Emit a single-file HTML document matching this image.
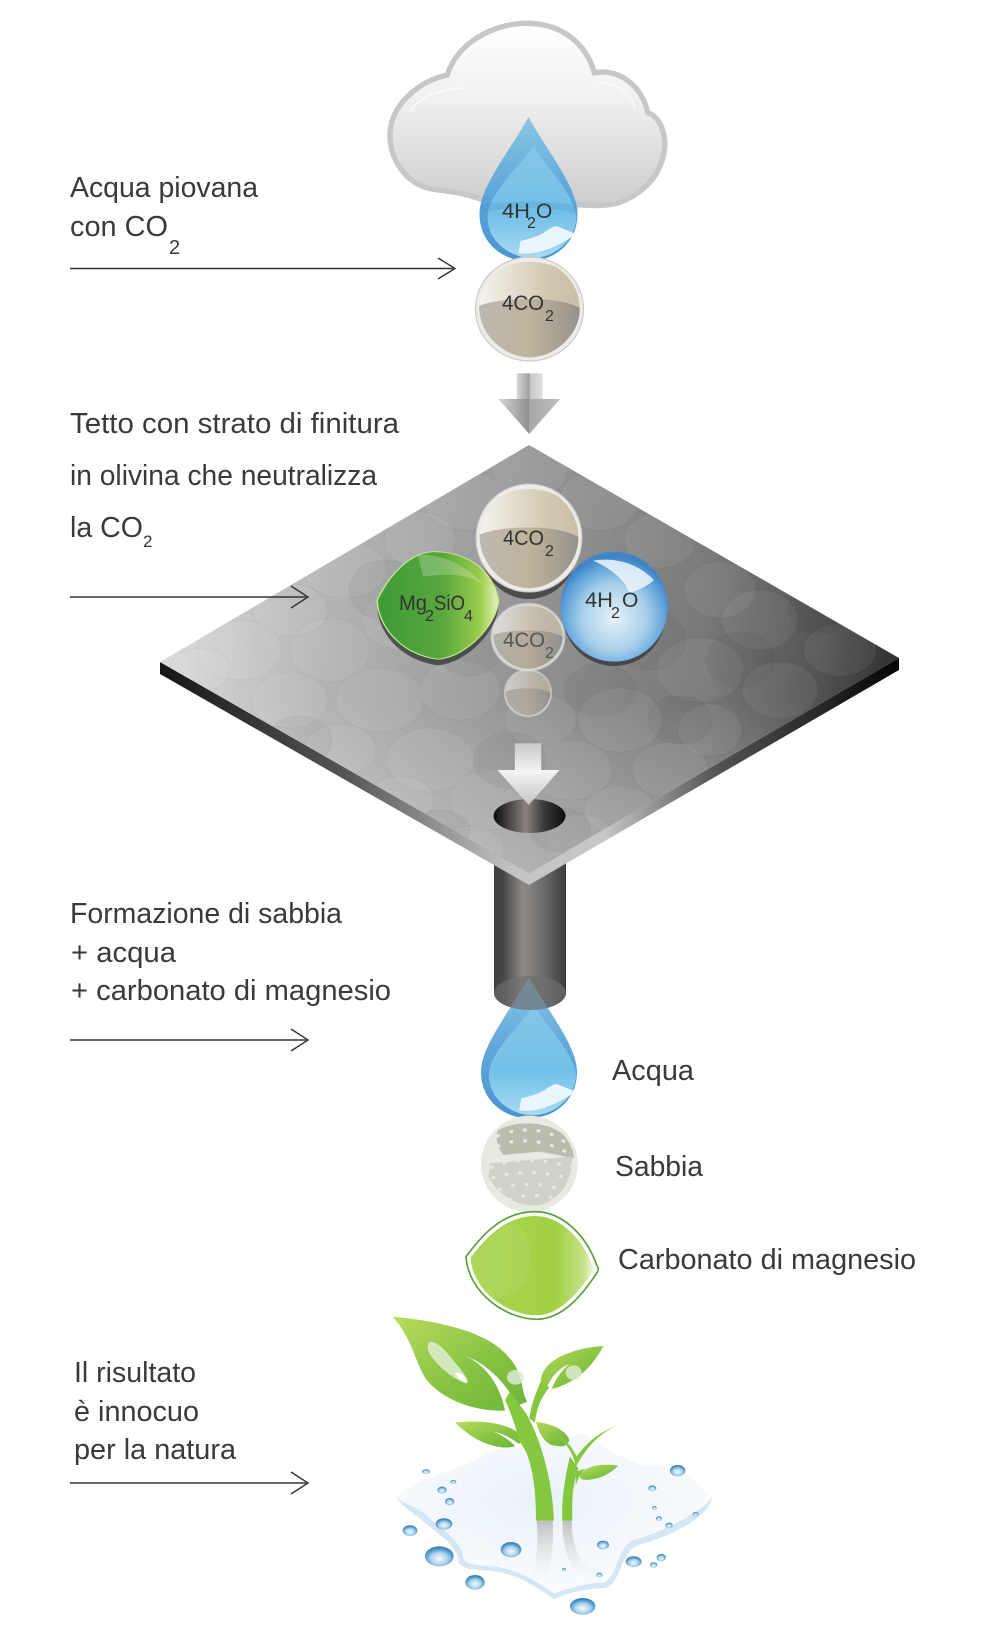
<!DOCTYPE html>
<html><head><meta charset="utf-8"><style>
html,body{margin:0;padding:0;background:#fff}
svg{display:block}
text{font-family:"Liberation Sans",sans-serif;fill:#2b2b2b}
.t{font-size:29px;fill:#3a3a3a}
.s{font-size:20px;fill:#3a3a3a}
.b{font-size:21px;fill:#333}
.bs{font-size:19px;fill:#333}
</style></head><body>
<svg width="1000" height="1637" viewBox="0 0 1000 1637" xmlns="http://www.w3.org/2000/svg">
<defs>
<linearGradient id="cl" x1="0" y1="0" x2="0" y2="1"><stop offset="0" stop-color="#fff"/><stop offset=".4" stop-color="#f1f1f1"/><stop offset=".75" stop-color="#dcdcdc"/><stop offset="1" stop-color="#cdcdcd"/></linearGradient>
<linearGradient id="dO" x1="0" y1="0" x2="0" y2="1"><stop offset="0" stop-color="#8cc6e2"/><stop offset=".5" stop-color="#5fa8da"/><stop offset="1" stop-color="#4b94d2"/></linearGradient>
<linearGradient id="dI" x1="0" y1="0" x2="0" y2="1"><stop offset="0" stop-color="#86c6e8"/><stop offset=".6" stop-color="#72c0e8"/><stop offset="1" stop-color="#a8daf2"/></linearGradient>
<linearGradient id="ballT" x1="0" y1="0" x2="1" y2="0"><stop offset="0" stop-color="#f5f3ee"/><stop offset=".7" stop-color="#d2c7af"/><stop offset="1" stop-color="#c9bfa9"/></linearGradient>
<linearGradient id="ballB" x1="0" y1="0" x2="1" y2="0"><stop offset="0" stop-color="#bdb9b1"/><stop offset=".5" stop-color="#bfb39c"/><stop offset="1" stop-color="#96928b"/></linearGradient>
<linearGradient id="arr" x1="0" y1="0" x2="1" y2="0"><stop offset="0" stop-color="#d8d8d8"/><stop offset=".5" stop-color="#9f9f9f"/><stop offset=".52" stop-color="#c8c8c8"/><stop offset="1" stop-color="#dedede"/></linearGradient>
<linearGradient id="arrH" x1="0" y1="0" x2="1" y2="0"><stop offset="0" stop-color="#d4d4d4"/><stop offset=".5" stop-color="#8f8f8f"/><stop offset=".5" stop-color="#a8a8a8"/><stop offset="1" stop-color="#bcbcbc"/></linearGradient>
<linearGradient id="top" gradientUnits="userSpaceOnUse" x1="160" y1="0" x2="899" y2="0"><stop offset="0" stop-color="#dcdcdc"/><stop offset=".22" stop-color="#b4b4b6"/><stop offset=".5" stop-color="#929294"/><stop offset=".74" stop-color="#767676"/><stop offset=".9" stop-color="#505050"/><stop offset="1" stop-color="#2e2e2e"/></linearGradient>
<linearGradient id="topV" x1="0" y1="0" x2="0" y2="1"><stop offset="0" stop-color="#fff" stop-opacity=".05"/><stop offset=".6" stop-color="#fff" stop-opacity="0"/><stop offset="1" stop-color="#fff" stop-opacity=".3"/></linearGradient>
<linearGradient id="side" gradientUnits="userSpaceOnUse" x1="160" y1="0" x2="899" y2="0"><stop offset="0" stop-color="#161616"/><stop offset=".25" stop-color="#555"/><stop offset=".48" stop-color="#c4c4c4"/><stop offset=".6" stop-color="#c8c8c8"/><stop offset=".75" stop-color="#555"/><stop offset="1" stop-color="#050505"/></linearGradient>
<linearGradient id="pipe" x1="0" y1="0" x2="1" y2="0"><stop offset="0" stop-color="#3f3f3f"/><stop offset=".12" stop-color="#444"/><stop offset=".4" stop-color="#8f8a88"/><stop offset=".7" stop-color="#6a6a6a"/><stop offset="1" stop-color="#3c3c3c"/></linearGradient>
<linearGradient id="hole" x1="0" y1="0" x2="1" y2="0"><stop offset="0" stop-color="#0c0c0c"/><stop offset=".45" stop-color="#8a8280"/><stop offset=".7" stop-color="#3a3a3a"/><stop offset="1" stop-color="#0c0c0c"/></linearGradient>
<linearGradient id="wa" x1="0" y1="0" x2="0" y2="1"><stop offset="0" stop-color="#c8c8c8"/><stop offset="1" stop-color="#f2f2f2"/></linearGradient>
<linearGradient id="wh" x1="0" y1="0" x2="0" y2="1"><stop offset="0" stop-color="#f6f6f6"/><stop offset="1" stop-color="#c4c4c4"/></linearGradient>
<linearGradient id="gr" x1="0" y1="0" x2="1" y2="0"><stop offset="0" stop-color="#3d9a38"/><stop offset=".55" stop-color="#5aa83e"/><stop offset=".85" stop-color="#9ccc4c"/><stop offset="1" stop-color="#e6f2c0"/></linearGradient>
<radialGradient id="blu" cx=".5" cy=".6" r=".55"><stop offset="0" stop-color="#e6f2f8"/><stop offset=".55" stop-color="#a8d0ea"/><stop offset=".88" stop-color="#5b9fd8"/><stop offset="1" stop-color="#3f85c6"/></radialGradient>
<linearGradient id="lg" x1="0" y1="0" x2="1" y2="0"><stop offset="0" stop-color="#a7d34f"/><stop offset=".7" stop-color="#a2d145"/><stop offset=".92" stop-color="#c6e08a"/><stop offset="1" stop-color="#f0f6df"/></linearGradient>
<linearGradient id="leaf" x1="0" y1="0" x2="1" y2="1"><stop offset="0" stop-color="#b8dc5c"/><stop offset=".6" stop-color="#85c242"/><stop offset="1" stop-color="#6cb63a"/></linearGradient>
<linearGradient id="rf" x1="0" y1="0" x2="0" y2="1"><stop offset="0" stop-color="#b5b5b5"/><stop offset="1" stop-color="#e8e8e8" stop-opacity=".1"/></linearGradient>
<radialGradient id="pud" cx=".45" cy=".42" r=".6"><stop offset="0" stop-color="#e8f2fa"/><stop offset="1" stop-color="#fbfcfe"/></radialGradient>
<radialGradient id="dp" cx=".5" cy=".62" r=".55"><stop offset="0" stop-color="#f6fbfe"/><stop offset=".55" stop-color="#a9d2ec"/><stop offset=".9" stop-color="#4e95cb"/><stop offset="1" stop-color="#3d82b8"/></radialGradient>
<clipPath id="dia"><path d="M529 445L899 658 529 873 160 662Z"/></clipPath>
<g id="drop">
 <path d="M0 0C-18 33-49 70-49 97C-49 125-27 144 0 144C27 144 49 125 49 97C49 70 18 33 0 0Z" fill="url(#dO)"/>
 <path d="M5 29C-10 50-41 78-41 100C-41 125-17 141 3 141C28 141 47 122 48 100C46 78 18 50 5 29Z" fill="url(#dI)"/>
 <path d="M-8 124C0 122 8 120 15 116C20 112 24 110 28 109L45 116C44 120 41 122 38 123C30 128 22 132 10 135C2 137-4 137-10 136Z" fill="#eaf6fb"/>
</g>
<g id="ball">
 <ellipse cx="0" cy="0" rx="1" ry="1" fill="#ecebe7" stroke="#c9c7c2" stroke-width=".02"/>
 <path d="M-.93 -.06C-.6 -.22 .5 -.28 .93 -.02A.94 .94 0 0 0 .5 -.8C.2 -.95 -.3 -.95 -.55 -.75C-.8 -.55 -.9 -.3 -.93 -.06Z" fill="url(#ballT)"/>
 <path d="M-.93 -.06C-.6 -.22 .5 -.28 .93 -.02C.95 .45 .5 .93 0 .93C-.5 .93 -.95 .45 -.93 -.06Z" fill="url(#ballB)"/>
</g>
</defs>

<rect width="1000" height="1637" fill="#fff"/>

<!-- Cloud -->
<g transform="translate(350,0) scale(.3333)">
 <path d="M385 595C320 572 280 575 235 565C160 545 118 470 120 400C122 320 200 245 292 225C320 130 430 70 530 70C640 70 710 135 733 218C820 205 880 270 893 338C940 355 950 420 942 460C925 545 860 590 800 610C750 622 700 615 660 612L400 600Z" fill="url(#cl)" stroke="#c7c7c7" stroke-width="16"/>
 <path d="M180 335C220 280 290 265 340 265" fill="none" stroke="#fff" stroke-width="6" opacity=".6"/>
 <path d="M740 250C800 245 845 280 855 330" fill="none" stroke="#fff" stroke-width="6" opacity=".5"/>
</g>
<use href="#drop" transform="translate(528.5,117)"/>
<path d="M481 205C500 200 560 200 578 206L577 214C555 206 500 206 481 214Z" fill="#3e7fb5" opacity=".18"/>
<!-- ball 1 -->
<use href="#ball" transform="translate(529.5,309) scale(54,52)"/>
<!-- grey arrow -->
<g transform="translate(350,0) scale(.3333)">
 <rect x="500" y="1120" width="78" height="78" fill="url(#arr)"/>
 <path d="M445 1197H630L538 1302Z" fill="url(#arrH)"/>
</g>

<!-- Pipe -->
<path d="M494 850H566V993A36 17 0 0 1 494 993Z" fill="url(#pipe)"/>

<!-- Diamond -->
<path d="M160 662V674L529 885 899 670V658L529 873Z" fill="url(#side)"/>
<path d="M529 445L899 658 529 873 160 662Z" fill="url(#top)"/>
<path d="M529 445L899 658 529 873 160 662Z" fill="url(#topV)"/>
<g clip-path="url(#dia)" stroke="#000" stroke-opacity=".035" stroke-width="1">
 <g fill="#fff" fill-opacity=".06">
  <ellipse cx="530" cy="470" rx="38" ry="28"/><ellipse cx="465" cy="500" rx="42" ry="30"/><ellipse cx="600" cy="500" rx="40" ry="30"/><ellipse cx="420" cy="540" rx="36" ry="28"/><ellipse cx="345" cy="570" rx="42" ry="28"/><ellipse cx="290" cy="610" rx="38" ry="26"/><ellipse cx="240" cy="650" rx="42" ry="30"/><ellipse cx="330" cy="650" rx="40" ry="32"/><ellipse cx="400" cy="620" rx="38" ry="30"/><ellipse cx="200" cy="670" rx="30" ry="22"/><ellipse cx="290" cy="700" rx="38" ry="28"/><ellipse cx="380" cy="700" rx="44" ry="32"/><ellipse cx="460" cy="690" rx="40" ry="30"/><ellipse cx="340" cy="750" rx="36" ry="26"/><ellipse cx="430" cy="760" rx="44" ry="32"/><ellipse cx="400" cy="800" rx="34" ry="24"/><ellipse cx="490" cy="800" rx="40" ry="30"/><ellipse cx="570" cy="770" rx="42" ry="30"/><ellipse cx="620" cy="720" rx="42" ry="32"/><ellipse cx="700" cy="670" rx="44" ry="32"/><ellipse cx="670" cy="770" rx="38" ry="28"/><ellipse cx="760" cy="620" rx="38" ry="30"/><ellipse cx="780" cy="690" rx="38" ry="28"/><ellipse cx="720" cy="590" rx="36" ry="28"/><ellipse cx="660" cy="540" rx="36" ry="28"/><ellipse cx="840" cy="650" rx="36" ry="26"/><ellipse cx="540" cy="720" rx="36" ry="26"/><ellipse cx="580" cy="840" rx="34" ry="26"/><ellipse cx="470" cy="850" rx="34" ry="24"/><ellipse cx="620" cy="810" rx="36" ry="24"/><ellipse cx="710" cy="730" rx="32" ry="26"/>
 </g>
 <g fill="#000" fill-opacity=".035">
  <ellipse cx="385" cy="590" rx="36" ry="30"/><ellipse cx="510" cy="760" rx="36" ry="28"/><ellipse cx="650" cy="640" rx="36" ry="30"/><ellipse cx="740" cy="660" rx="34" ry="28"/><ellipse cx="470" cy="650" rx="32" ry="26"/><ellipse cx="300" cy="740" rx="32" ry="24"/><ellipse cx="820" cy="610" rx="32" ry="24"/><ellipse cx="600" cy="690" rx="36" ry="26"/><ellipse cx="560" cy="830" rx="30" ry="22"/><ellipse cx="680" cy="720" rx="32" ry="24"/><ellipse cx="440" cy="830" rx="30" ry="20"/>
 </g>
</g>

<!-- Balls on diamond -->
<g transform="translate(140,430) scale(.4965,.3333)">
 <ellipse cx="783" cy="345" rx="100" ry="162" fill="#3f3f3f" opacity=".85"/>
 <ellipse cx="955" cy="550" rx="104" ry="158" fill="#3a3e42" opacity=".85"/>
 <path d="M590 383C660 383 710 440 722 528C720 600 660 698 600 706C520 690 478 600 478 528C500 460 540 388 590 383Z" fill="#3b423c" opacity=".85"/>
 <path d="M590 365C660 365 710 420 722 510C720 580 660 680 600 688C520 672 478 580 478 510C500 440 540 370 590 365Z" fill="url(#gr)" stroke="#c5e68d" stroke-width="3"/>
 <path d="M560 375C600 370 660 400 700 480C680 440 640 425 570 440Z" fill="#fff" opacity=".22"/>
 <ellipse cx="955" cy="530" rx="108" ry="165" fill="url(#blu)"/>
 <path d="M912 392C950 382 1000 395 1035 450C1020 470 1005 480 985 490C980 455 950 415 912 392Z" fill="#eef6fa" opacity=".85"/>
</g>
<use href="#ball" transform="translate(529,538) scale(53,54)"/>
<g opacity=".75"><use href="#ball" transform="translate(528,637) scale(37,34)"/></g>
<g opacity=".6"><use href="#ball" transform="translate(528,693) scale(24,24)"/></g>

<!-- white arrow + hole -->
<ellipse cx="529.5" cy="816" rx="36" ry="17" fill="url(#hole)"/>
<g transform="translate(140,430) scale(.4965,.3333)">
 <rect x="755" y="940" width="53" height="82" fill="url(#wa)"/>
 <path d="M720 1020H845L783 1125Z" fill="url(#wh)"/>
</g>

<!-- Drop 2 + pipe end -->
<use href="#drop" transform="translate(529,977) scale(.98,.98)"/>
<ellipse cx="530" cy="993" rx="36" ry="17" fill="#6f6f6f" opacity=".68"/>

<!-- Sand -->
<g transform="translate(440,860) scale(.3333)">
 <circle cx="268" cy="912" r="145" fill="#e9e8e1"/>
 <path d="M175 810C230 780 320 785 365 820C390 845 400 870 402 895L300 875 190 885C170 860 165 830 175 810Z" fill="#bcbbb0"/>
 <path d="M150 910L395 890C400 960 360 1020 300 1035C230 1045 170 1000 145 950Z" fill="#d2d1c8"/>
 <g fill="none" stroke="#e9e8e1" stroke-width="9" stroke-dasharray="11 30">
  <path d="M170 830C230 800 320 800 380 850"/><path d="M170 860C230 830 320 840 385 880"/><path d="M150 925C220 890 320 900 395 920"/><path d="M155 955C220 930 320 935 390 955"/><path d="M175 990C230 965 320 970 370 990"/><path d="M205 1020C250 1000 310 1005 345 1015"/>
 </g>
</g>

<!-- Green carbonate -->
<g transform="translate(440,860) scale(.3333)">
 <path d="M78 1190C130 1120 190 1055 285 1055C370 1055 440 1130 470 1215C477 1225 475 1235 470 1240C430 1300 370 1378 290 1378C200 1378 85 1300 78 1190Z" fill="#fff" stroke="#57a138" stroke-width="5"/>
 <path d="M92 1193C140 1130 200 1068 285 1068C362 1068 430 1138 458 1218C462 1226 462 1232 458 1236C420 1290 362 1366 290 1366C205 1366 97 1295 92 1193Z" fill="url(#lg)"/>
 <path d="M225 1085C265 1120 280 1175 265 1240C250 1290 190 1330 150 1312C110 1280 92 1250 92 1195C130 1150 180 1100 225 1085Z" fill="#fff" opacity=".08"/>
</g>

<!-- Puddle & plant -->
<g transform="translate(370,1300) scale(.3333)">
 <path d="M80 590C95 620 115 630 150 655C180 685 265 735 265 780C265 810 320 808 380 815C450 825 510 870 552 897C590 880 650 865 700 865C755 860 745 760 805 735C920 705 1020 645 1027 590C1015 620 900 690 790 720C735 745 745 840 695 848C640 850 590 868 552 880C510 850 450 810 380 800C320 795 280 795 280 770C280 725 190 670 165 640C125 615 95 610 80 590Z" fill="#d5e7f4"/>
 <path d="M80 590C130 530 290 510 350 460C440 430 550 425 640 400C700 440 760 480 830 500C900 480 990 540 1027 590C1015 620 900 690 790 720C735 745 745 840 695 848C640 850 590 868 552 880C510 850 450 810 380 800C320 795 280 795 280 770C280 725 190 670 165 640C125 615 95 610 80 590Z" fill="url(#pud)"/>
 <path d="M500 662H548C552 720 545 780 535 825H490C500 780 505 720 500 662Z" fill="url(#rf)" opacity=".85"/>
 <path d="M578 662H605C605 720 620 770 650 800C680 810 700 800 712 815C690 835 650 825 625 825C590 790 575 720 578 662Z" fill="url(#rf)" opacity=".85"/>
 <!-- plant -->
 <path d="M68 50C190 62 350 90 415 170C465 225 450 270 472 305L405 332C330 335 230 310 170 240C135 190 130 120 68 50Z" fill="url(#leaf)"/>
 <path d="M285 168C350 195 392 260 405 333L442 318C410 250 350 190 285 168Z" fill="#fff"/>
 <path d="M700 138C640 140 545 165 520 215C505 245 515 260 530 268C540 270 640 255 700 138Z" fill="url(#leaf)"/>
 <path d="M598 192C565 205 540 235 528 270L545 268C555 240 575 210 598 192Z" fill="#fff"/>
 <path d="M255 368C330 358 420 368 458 410C455 440 420 445 395 442C340 435 300 410 255 368Z" fill="url(#leaf)"/>
 <path d="M370 395C405 402 435 420 462 445L440 443C420 420 395 405 370 395Z" fill="#fff"/>
 <path d="M498 365C540 370 590 390 598 420C590 445 570 440 545 435C520 425 505 395 498 365Z" fill="url(#leaf)"/>
 <path d="M745 497C700 490 650 495 630 525C625 545 660 540 680 535C705 530 725 515 745 497Z" fill="url(#leaf)"/>
 <g fill="#85c73f">
  <path d="M420 275C440 300 452 320 465 335C505 400 548 530 552 662H498C498 570 490 480 445 410C435 375 420 330 405 300Z"/>
  <path d="M512 245C497 280 482 320 478 355L495 368C500 320 516 290 538 262Z"/>
  <path d="M440 415C450 425 462 440 475 470L480 440 458 415Z"/>
  <path d="M552 400C590 425 612 465 618 500C650 440 690 400 735 380C680 400 645 435 620 470C605 435 580 412 552 400Z"/>
  <path d="M600 470L625 505C603 570 607 620 607 662H577C574 600 585 530 600 470Z"/>
  <path d="M648 505C635 515 625 530 617 558L618 515Z"/>
 </g>
 <path d="M180 125C210 125 240 170 270 205C285 225 300 245 290 250C250 240 200 195 178 160C170 145 172 130 180 125Z" fill="#e2efd9" opacity=".8"/>
 <path d="M255 220C270 210 290 235 292 248C280 248 262 235 255 220Z" fill="#fff"/>
 <ellipse cx="436" cy="232" rx="25" ry="22" fill="#dbead2" opacity=".85"/>
 <ellipse cx="611" cy="218" rx="24" ry="22" fill="#dbead2" opacity=".85"/>
 <!-- droplets -->
 <ellipse cx="168" cy="515" rx="12" ry="7" fill="url(#dp)"/><ellipse cx="250" cy="546" rx="9" ry="6" fill="url(#dp)"/><ellipse cx="216" cy="570" rx="14" ry="10" fill="url(#dp)"/><ellipse cx="239" cy="605" rx="14" ry="11" fill="url(#dp)"/><ellipse cx="222" cy="672" rx="25" ry="17" fill="url(#dp)"/><ellipse cx="120" cy="692" rx="22" ry="16" fill="url(#dp)"/><ellipse cx="208" cy="769" rx="43" ry="30" fill="url(#dp)"/><ellipse cx="315" cy="847" rx="29" ry="22" fill="url(#dp)"/><ellipse cx="423" cy="749" rx="31" ry="23" fill="url(#dp)"/><ellipse cx="638" cy="919" rx="38" ry="25" fill="url(#dp)"/><ellipse cx="699" cy="735" rx="18" ry="13" fill="url(#dp)"/><ellipse cx="688" cy="825" rx="9" ry="7" fill="url(#dp)"/><ellipse cx="582" cy="809" rx="6" ry="5" fill="url(#dp)"/><ellipse cx="791" cy="785" rx="24" ry="16" fill="url(#dp)"/><ellipse cx="851" cy="795" rx="11" ry="8" fill="url(#dp)"/><ellipse cx="874" cy="773" rx="14" ry="11" fill="url(#dp)"/><ellipse cx="897" cy="676" rx="11" ry="8" fill="url(#dp)"/><ellipse cx="867" cy="656" rx="9" ry="7" fill="url(#dp)"/><ellipse cx="853" cy="624" rx="7" ry="6" fill="url(#dp)"/><ellipse cx="847" cy="565" rx="12" ry="9" fill="url(#dp)"/><ellipse cx="923" cy="512" rx="23" ry="17" fill="url(#dp)"/><ellipse cx="977" cy="643" rx="9" ry="7" fill="url(#dp)"/>
</g>

<!-- Arrows -->
<g fill="none" stroke="#333" stroke-width="1.4">
 <path d="M70 268.5H453"/><path d="M438 258L455 268.5 438 279"/>
 <path d="M70 597H306"/><path d="M291 586L308 597 291 608"/>
 <path d="M70 1040H306"/><path d="M291 1029L308 1040 291 1051"/>
 <path d="M70 1483H306"/><path d="M291 1472L308 1483 291 1494"/>
</g>

<!-- Labels -->
<text class="t" x="70" y="197" textLength="188" lengthAdjust="spacingAndGlyphs">Acqua piovana</text>
<text class="t" x="70" y="236" textLength="98" lengthAdjust="spacingAndGlyphs">con CO</text>
<text class="s" x="169" y="254">2</text>
<text class="t" x="70" y="433" textLength="329" lengthAdjust="spacingAndGlyphs">Tetto con strato di finitura</text>
<text class="t" x="70" y="485" textLength="307" lengthAdjust="spacingAndGlyphs">in olivina che neutralizza</text>
<text class="t" x="70" y="537" textLength="73" lengthAdjust="spacingAndGlyphs">la CO</text>
<text class="bs" x="143" y="547" style="font-size:17px">2</text>
<text class="t" x="70" y="923" textLength="272" lengthAdjust="spacingAndGlyphs">Formazione di sabbia</text>
<text class="t" x="71" y="962" textLength="105" lengthAdjust="spacingAndGlyphs">+ acqua</text>
<text class="t" x="71" y="1000" textLength="320" lengthAdjust="spacingAndGlyphs">+ carbonato di magnesio</text>
<text class="t" x="612" y="1080" textLength="82" lengthAdjust="spacingAndGlyphs">Acqua</text>
<text class="t" x="615" y="1176" textLength="88" lengthAdjust="spacingAndGlyphs">Sabbia</text>
<text class="t" x="618" y="1269" textLength="298" lengthAdjust="spacingAndGlyphs">Carbonato di magnesio</text>
<text class="t" x="74" y="1382" textLength="122" lengthAdjust="spacingAndGlyphs">Il risultato</text>
<text class="t" x="74" y="1421" textLength="125" lengthAdjust="spacingAndGlyphs">è innocuo</text>
<text class="t" x="74" y="1459" textLength="162" lengthAdjust="spacingAndGlyphs">per la natura</text>

<text class="b" x="502" y="218" textLength="28" lengthAdjust="spacingAndGlyphs">4H</text><text class="bs" x="527" y="228" style="font-size:16px">2</text><text class="b" x="536" y="218">O</text>
<text class="b" x="502" y="310" textLength="42" lengthAdjust="spacingAndGlyphs">4CO</text><text class="bs" x="545" y="321" style="font-size:16px">2</text>
<text class="b" x="503" y="545" textLength="41" lengthAdjust="spacingAndGlyphs">4CO</text><text class="bs" x="545" y="556" style="font-size:16px">2</text>
<text class="b" x="399" y="610" textLength="28" lengthAdjust="spacingAndGlyphs">Mg</text><text class="bs" x="425" y="621" style="font-size:16px">2</text><text class="b" x="434" y="610" textLength="31" lengthAdjust="spacingAndGlyphs">SiO</text><text class="bs" x="464" y="621" style="font-size:16px">4</text>
<text class="b" x="585" y="607" textLength="28" lengthAdjust="spacingAndGlyphs">4H</text><text class="bs" x="611" y="618" style="font-size:16px">2</text><text class="b" x="622" y="607">O</text>
<text class="b" x="503" y="647" textLength="42" lengthAdjust="spacingAndGlyphs" style="fill:#555">4CO</text><text class="bs" x="545" y="658" style="font-size:16px;fill:#555">2</text>
</svg>
</body></html>
